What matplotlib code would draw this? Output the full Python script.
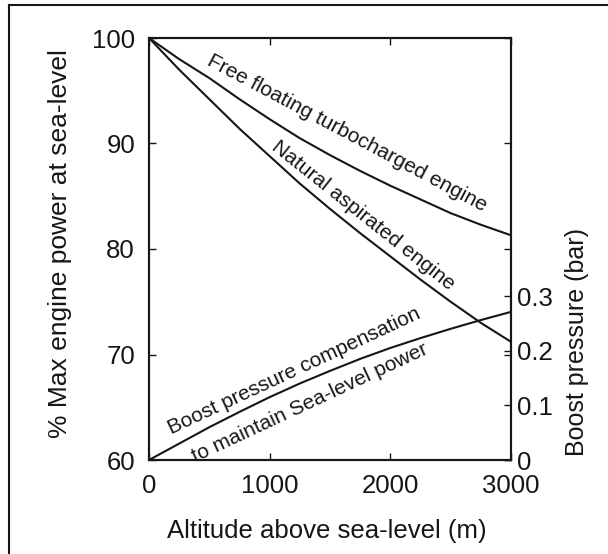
import matplotlib
matplotlib.use("Agg")
import matplotlib.pyplot as plt
from matplotlib.lines import Line2D

plt.rcParams["font.family"] = ["Liberation Sans", "DejaVu Sans"]

# values
altitude = [0, 250, 500, 750, 1000, 1250, 1500, 1750, 2000, 2250, 2500, 2750, 3000]
turbo_power = [100, 98.0, 96.2, 94.2, 92.3, 90.5, 88.9, 87.4, 86.0, 84.7, 83.4, 82.3, 81.3]
natural_power = [100, 97.0, 94.2, 91.4, 88.8, 86.2, 83.8, 81.5, 79.3, 77.1, 75.0, 73.0, 71.2]
boost_bar = [0, 0.03, 0.06, 0.088, 0.115, 0.14, 0.163, 0.185, 0.205, 0.223, 0.24, 0.256, 0.271]

x_ticks = [0, 1000, 2000, 3000]
power_ticks = [60, 70, 80, 90, 100]
boost_ticks = [0, 0.1, 0.2, 0.3]
boost_labels = ["0", "0.1", "0.2", "0.3"]

INK = "#161616"

fig = plt.figure(figsize=(6.08, 5.54), dpi=100)
ax = fig.add_axes([149 / 608, 1 - 460 / 554, 362 / 608, 422 / 554])
ax2 = ax.twinx()

ax.plot(altitude, turbo_power, color=INK, lw=1.5)
ax.plot(altitude, natural_power, color=INK, lw=1.5)
ax2.plot(altitude, boost_bar, color=INK, lw=1.5)

ax.set_xlim(0, 3000)
ax.set_ylim(60, 100)
ax2.set_ylim(0, 0.772)

ax.set_xticks(x_ticks)
ax.set_yticks(power_ticks)
ax2.set_yticks(boost_ticks)
ax2.set_yticklabels(boost_labels)

ax.tick_params(direction="in", length=5, width=1.0, top=True, right=True,
               labelsize=18.5, colors=INK)
ax.tick_params(axis="x", pad=10)
ax.tick_params(axis="y", pad=10)
ax2.tick_params(direction="in", length=5, width=1.0, labelsize=18.5, pad=4, colors=INK)

for a in (ax, ax2):
    for sp in a.spines.values():
        sp.set_linewidth(1.5)
        sp.set_color(INK)

ax.set_xlabel("Altitude above sea-level (m)", fontsize=18.5, color=INK)
ax.xaxis.set_label_coords(0.49, -0.14)
ax.set_ylabel("% Max engine power at sea-level", fontsize=19, color=INK)
ax.yaxis.set_label_coords(-0.213, 0.512)
ax2.set_ylabel("Boost pressure (bar)", fontsize=18, color=INK)
ax2.yaxis.set_label_coords(1.149, 0.28)

# curve labels
lbl = dict(fontsize=15, color=INK, ha="center", va="center", rotation_mode="anchor")
ax.text(1640, 91.0, "Free floating turbocharged engine", rotation=-28, **lbl)
ax.text(1775, 83.2, "Natural aspirated engine", rotation=-38.5, **lbl)
ax.text(1205, 68.4, "Boost pressure compensation", rotation=25, **lbl)
ax.text(1330, 65.45, "to maintain Sea-level power", rotation=25, **lbl)

# scan frame (left and top edges)
fig.add_artist(Line2D([9 / 608, 9 / 608], [0, 1 - 5 / 554], color=INK, lw=1.5))
fig.add_artist(Line2D([9 / 608, 1], [1 - 5 / 554, 1 - 5 / 554], color=INK, lw=1.5))

fig.savefig("out.png", dpi=100)
